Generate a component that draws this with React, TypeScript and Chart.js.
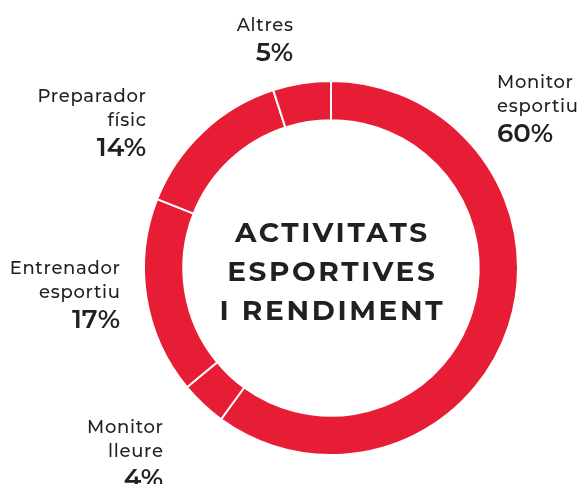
import React, { useEffect, useRef } from "react";
import { Chart, registerables } from "chart.js";

Chart.register(...registerables);

const categories = ["Monitor esportiu", "Monitor lleure", "Entrenador esportiu", "Preparador físic", "Altres"];
const values = [60, 4, 17, 14, 5];
const labelLines = [["Monitor", "esportiu"], ["Monitor", "lleure"], ["Entrenador", "esportiu"], ["Preparador", "físic"], ["Altres"]];
const centerTitle = ["ACTIVITATS", "ESPORTIVES", "I RENDIMENT"];

// label anchor layout (first baseline, alignment)
const labelAnchors = [
  { x: 497, y: 88, align: "left" },
  { x: 163, y: 433, align: "right" },
  { x: 120, y: 274, align: "right" },
  { x: 146, y: 102, align: "right" },
  { x: 293, y: 31, align: "right" },
];

const RED = "#e71d36";
const TEXT = "#231f20";
const FONT = "Montserrat, Inter, 'Open Sans', sans-serif";

const textPlugin = {
  id: "textPlugin",
  afterDraw(chart: any) {
    const ctx = chart.ctx as CanvasRenderingContext2D;
    const meta = chart.getDatasetMeta(0);
    const arc = meta.data[0];
    const cx = arc.x;
    const cy = arc.y;
    ctx.save();
    ctx.fillStyle = TEXT;
    ctx.textBaseline = "alphabetic";
    // center title
    ctx.textAlign = "center";
    ctx.font = `700 28px ${FONT}`;
    const ls = 2.6;
    (ctx as any).letterSpacing = `${ls}px`;
    centerTitle.forEach((t, i) => {
      ctx.fillText(t, cx + ls / 2, cy - 26 + i * 39);
    });
    // labels
    labelLines.forEach((lines, i) => {
      const a = labelAnchors[i];
      ctx.textAlign = a.align as CanvasTextAlign;
      const lsl = 0.7;
      (ctx as any).letterSpacing = `${lsl}px`;
      const dx = a.align === "right" ? lsl : 0;
      ctx.font = `500 18px ${FONT}`;
      lines.forEach((l, j) => ctx.fillText(l, a.x + dx, a.y + j * 24));
      (ctx as any).letterSpacing = "0px";
      ctx.font = `600 26px ${FONT}`;
      const py = a.y + (lines.length - 1) * 24 + 30;
      ctx.fillText(`${values[i]}%`, a.x, py);
    });
    ctx.restore();
  },
};

export default function App() {
  const ref = useRef<HTMLCanvasElement>(null);
  useEffect(() => {
    if (!ref.current) return;
    const chart = new Chart(ref.current, {
      type: "doughnut",
      data: {
        labels: categories,
        datasets: [
          {
            data: values,
            backgroundColor: RED,
            borderColor: "#ffffff",
            borderWidth: 2,
            hoverOffset: 0,
          },
        ],
      },
      options: {
        responsive: false,
        animation: false,
        cutout: "79%",
        layout: { padding: { left: 143, right: 64, top: 80, bottom: 28 } },
        plugins: { legend: { display: false }, tooltip: { enabled: false } },
      },
      plugins: [textPlugin],
    });
    return () => chart.destroy();
  }, []);
  return (
    <div style={{ position: "fixed", left: 0, top: 0, width: 583, height: 484, background: "#fff" }}>
      <canvas ref={ref} width={583} height={484} />
    </div>
  );
}
